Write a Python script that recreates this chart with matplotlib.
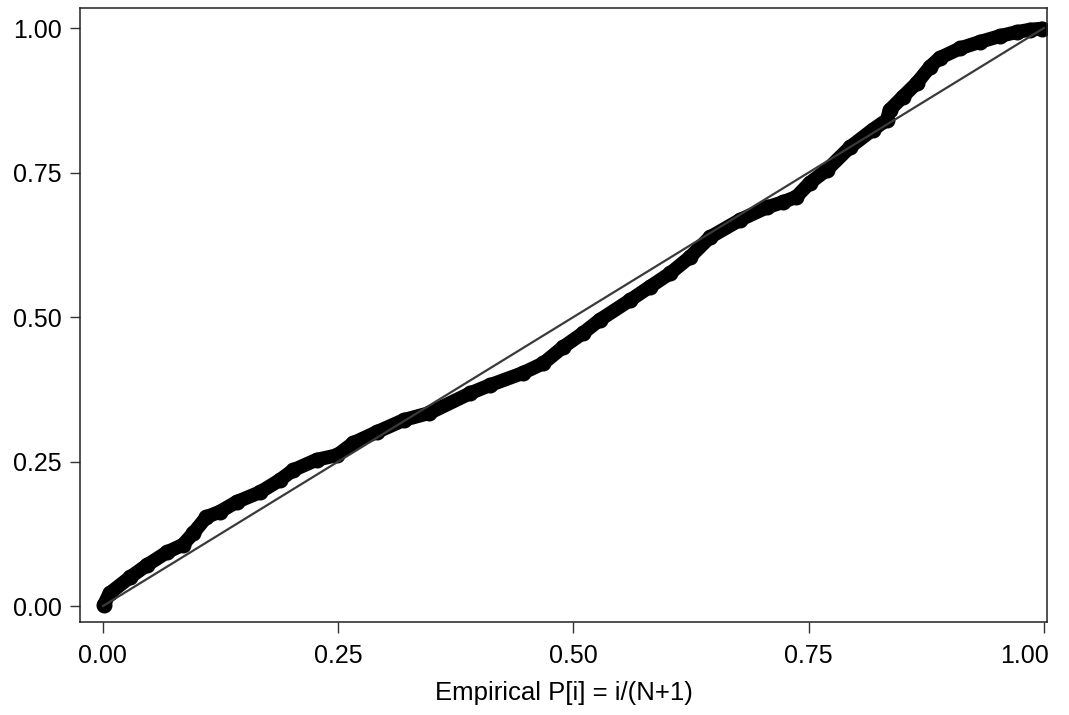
import numpy as np
import matplotlib.pyplot as plt
import matplotlib.transforms as mtransforms

plt.rcParams['font.family'] = ['Liberation Sans', 'DejaVu Sans']

# P-P plot: empirical vs normal cumulative probabilities
p_emp = [0.001, 0.007, 0.029, 0.047, 0.068, 0.085, 0.096, 0.110, 0.124, 0.142,
         0.167, 0.188, 0.202, 0.227, 0.249, 0.266, 0.291, 0.320, 0.347, 0.390,
         0.411, 0.446, 0.468, 0.489, 0.510, 0.528, 0.560, 0.581, 0.603, 0.624,
         0.645, 0.677, 0.706, 0.723, 0.737, 0.751, 0.769, 0.794, 0.818, 0.833,
         0.836, 0.850, 0.865, 0.879, 0.889, 0.911, 0.932, 0.953, 0.971, 0.985,
         0.998]
p_norm = [0.002, 0.022, 0.050, 0.071, 0.093, 0.106, 0.126, 0.154, 0.163, 0.180,
          0.197, 0.218, 0.235, 0.253, 0.261, 0.282, 0.301, 0.322, 0.334, 0.368,
          0.382, 0.403, 0.420, 0.448, 0.472, 0.495, 0.529, 0.552, 0.576, 0.604,
          0.638, 0.668, 0.690, 0.699, 0.708, 0.732, 0.754, 0.794, 0.824, 0.841,
          0.858, 0.881, 0.905, 0.933, 0.948, 0.965, 0.976, 0.986, 0.993, 0.997,
          0.999]
ticks = [0.0, 0.25, 0.5, 0.75, 1.0]
tick_labels = ['0.00', '0.25', '0.50', '0.75', '1.00']

fig = plt.figure(figsize=(10.69, 7.15), dpi=100)
ax = fig.add_axes([0.0748, 0.130, 0.9046, 0.8588])

# observaciones (marcadores gruesos)
ax.plot(p_emp, p_norm, color='black', lw=10, solid_capstyle='round',
        solid_joinstyle='round', marker='o', ms=10.5, mfc='black', mec='black',
        zorder=2)

# linea de referencia y = x
ax.plot([0, 1], [0, 1], color='#3a3a3a', lw=1.6, zorder=3)

ax.set_xlim(-0.0244, 1.0032)
ax.set_ylim(-0.0277, 1.0346)
ax.set_xticks(ticks)
ax.set_xticklabels(tick_labels)
ax.set_yticks(ticks)
ax.set_yticklabels(tick_labels)
ax.tick_params(direction='out', length=7, width=1, labelsize=18, pad=6,
               color='#333333')
ax.tick_params(axis='x', length=8, pad=8)
for s in ax.spines.values():
    s.set_linewidth(1.1)
    s.set_color('#222222')

# ultima etiqueta del eje x desplazada para que no se salga del borde
last = ax.get_xticklabels()[-1]
last.set_transform(last.get_transform() +
                   mtransforms.ScaledTranslation(-0.19, 0, fig.dpi_scale_trans))

ax.set_xlabel('Empirical P[i] = i/(N+1)', fontsize=18.5, labelpad=9)

fig.savefig('out.png', dpi=100)
